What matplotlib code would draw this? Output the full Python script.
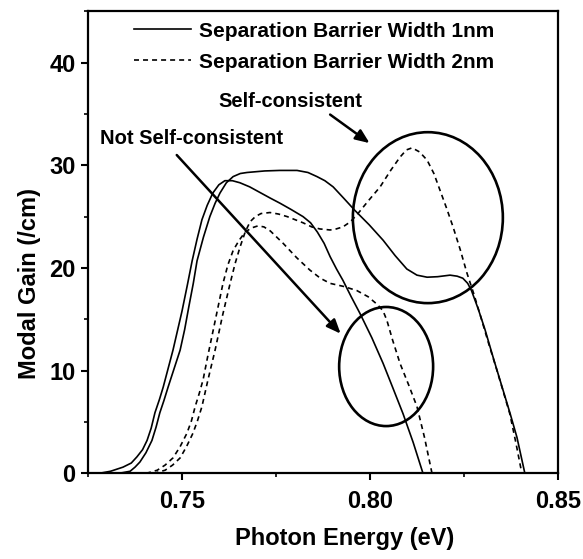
import matplotlib
matplotlib.use("Agg")
import matplotlib.pyplot as plt
from matplotlib.patches import Ellipse

plt.rcParams['font.family'] = ['Liberation Sans', 'DejaVu Sans']
plt.rcParams['font.weight'] = 'bold'
plt.rcParams['axes.labelweight'] = 'bold'
plt.rcParams['lines.scale_dashes'] = False

# 1nm barrier, not self-consistent
x_1nm_nsc = [0.728, 0.731, 0.7343, 0.7365, 0.738, 0.7395, 0.7407, 0.7418, 0.7428, 0.744,
             0.745, 0.7463, 0.7476, 0.7488, 0.750, 0.7514, 0.7527, 0.754, 0.7553, 0.7567,
             0.7582, 0.7598, 0.7614, 0.7634, 0.7654, 0.768, 0.771, 0.7735, 0.7761, 0.779,
             0.7822, 0.7842, 0.786, 0.7878, 0.7894, 0.7911, 0.7928, 0.795, 0.7973, 0.8005,
             0.8035, 0.806, 0.8088, 0.8115, 0.8141]
y_1nm_nsc = [0.0, 0.2, 0.6, 1.0, 1.6, 2.3, 3.2, 4.4, 5.9, 7.2,
             8.4, 10.2, 12.0, 13.9, 15.8, 18.3, 20.7, 22.8, 24.7, 26.1,
             27.3, 28.1, 28.5, 28.5, 28.3, 27.9, 27.3, 26.8, 26.3, 25.7,
             25.0, 24.4, 23.5, 22.4, 21.1, 19.9, 18.8, 17.2, 15.6, 13.2,
             10.7, 8.4, 5.8, 3.0, 0.0]

# 1nm barrier, self-consistent
x_1nm_sc = [0.731, 0.734, 0.7362, 0.7375, 0.7388, 0.7404, 0.742, 0.7431, 0.7441, 0.7452,
            0.7463, 0.7479, 0.7495, 0.7507, 0.7518, 0.753, 0.754, 0.7557, 0.7574, 0.7588,
            0.7601, 0.7618, 0.7636, 0.7655, 0.7673, 0.772, 0.776, 0.7806, 0.7835, 0.7859,
            0.788, 0.7902, 0.793, 0.796, 0.7998, 0.8035, 0.8067, 0.8098, 0.8125, 0.8152,
            0.818, 0.8213, 0.8232, 0.8247, 0.826, 0.827, 0.8288, 0.8306, 0.833, 0.8354,
            0.8373, 0.8391, 0.8412]
y_1nm_sc = [0.0, 0.05, 0.2, 0.6, 1.1, 2.0, 3.2, 4.5, 5.9, 7.1,
            8.4, 10.2, 12.0, 14.0, 16.2, 18.5, 20.7, 23.0, 25.0, 26.3,
            27.3, 28.3, 28.9, 29.2, 29.3, 29.45, 29.5, 29.5, 29.3, 28.9,
            28.5, 27.9, 26.8, 25.6, 24.2, 22.7, 21.2, 19.9, 19.3, 19.1,
            19.15, 19.3, 19.2, 19.0, 18.5, 17.8, 16.0, 14.0, 11.0, 8.1,
            5.8, 3.5, 0.0]

# 2nm barrier, not self-consistent
x_2nm_nsc = [0.738, 0.741, 0.7434, 0.7455, 0.7476, 0.7495, 0.7513, 0.7525, 0.7535, 0.7546,
             0.7556, 0.7569, 0.7589, 0.7609, 0.7622, 0.7636, 0.7652, 0.7668, 0.7685, 0.7702,
             0.7718, 0.7735, 0.7752, 0.7769, 0.7805, 0.784, 0.7868, 0.7894, 0.793, 0.7965,
             0.7995, 0.8021, 0.8035, 0.8045, 0.806, 0.808, 0.8103, 0.8125, 0.8145, 0.8165]
y_2nm_nsc = [0.0, 0.05, 0.3, 0.8, 1.5, 2.6, 3.9, 5.1, 6.5, 7.8,
             9.1, 11.5, 15.0, 18.5, 20.3, 21.7, 22.7, 23.5, 23.9, 24.1,
             24.0, 23.6, 23.0, 22.4, 21.0, 19.8, 19.0, 18.5, 18.2, 17.8,
             17.2, 16.4, 15.8, 14.9, 13.0, 10.7, 8.6, 6.5, 3.5, 0.0]

# 2nm barrier, self-consistent
x_2nm_sc = [0.740, 0.743, 0.7455, 0.7475, 0.7495, 0.7512, 0.7529, 0.7541, 0.7553, 0.7561,
            0.7569, 0.7588, 0.7608, 0.7628, 0.7641, 0.7654, 0.7668, 0.7681, 0.7695, 0.771,
            0.7734, 0.7757, 0.778, 0.7822, 0.7845, 0.7867, 0.7894, 0.791, 0.7928, 0.7948,
            0.7968, 0.7997, 0.8027, 0.8055, 0.808, 0.8097, 0.8112, 0.8132, 0.8152, 0.817,
            0.8186, 0.8204, 0.8221, 0.824, 0.8258, 0.8276, 0.8295, 0.8316, 0.8338, 0.8355,
            0.8372, 0.8388, 0.8404]
y_2nm_sc = [0.0, 0.05, 0.3, 0.8, 1.5, 2.6, 3.9, 5.1, 6.5, 7.8,
            9.1, 12.0, 15.4, 18.5, 20.4, 22.0, 23.5, 24.5, 25.0, 25.3,
            25.4, 25.25, 25.0, 24.4, 24.0, 23.8, 23.7, 23.8, 24.0, 24.5,
            25.3, 26.6, 27.9, 29.5, 30.8, 31.5, 31.7, 31.3, 30.5, 29.2,
            27.6, 25.8, 24.0, 21.8, 19.5, 17.5, 15.2, 12.6, 10.0, 7.9,
            5.8, 3.0, 0.0]

dash = (0, (3.6, 2.9))

fig = plt.figure(figsize=(5.83, 5.59), dpi=100)
ax = fig.add_axes([0.151, 0.1533, 0.806, 0.8265])

l1, = ax.plot(x_1nm_nsc, y_1nm_nsc, color='black', lw=1.2)
ax.plot(x_1nm_sc, y_1nm_sc, color='black', lw=1.2)
l2, = ax.plot(x_2nm_nsc, y_2nm_nsc, color='black', lw=1.2, linestyle=dash)
ax.plot(x_2nm_sc, y_2nm_sc, color='black', lw=1.2, linestyle=dash)

# circles around the regions
ax.add_patch(Ellipse((0.8154, 24.9), 0.0399, 16.65, fill=False, lw=1.9, color='black'))
ax.add_patch(Ellipse((0.8043, 10.4), 0.025, 11.6, fill=False, lw=1.9, color='black'))

ax.annotate('', xy=(0.8005, 32.0), xytext=(0.7888, 35.1),
            arrowprops=dict(arrowstyle='-|>,head_length=0.6,head_width=0.25',
                            color='black', lw=1.8, mutation_scale=14))
ax.annotate('', xy=(0.7927, 13.4), xytext=(0.7481, 31.2),
            arrowprops=dict(arrowstyle='-|>,head_length=0.6,head_width=0.25',
                            color='black', lw=1.8, mutation_scale=14))
ax.text(0.7787, 36.2, 'Self-consistent', ha='center', va='center', fontsize=14.5)
ax.text(0.7525, 32.6, 'Not Self-consistent', ha='center', va='center', fontsize=14.5)

ax.legend([l1, l2], ['Separation Barrier Width 1nm', 'Separation Barrier Width 2nm'],
          loc='upper left', bbox_to_anchor=(0.094, 0.982), frameon=False,
          fontsize=15, handlelength=2.7, handletextpad=0.42, labelspacing=0.58,
          borderpad=0.1, borderaxespad=0)

ax.set_xlim(0.725, 0.85)
ax.set_ylim(0, 45)
ax.set_xticks([0.75, 0.80, 0.85])
ax.set_xticklabels(['0.75', '0.80', '0.85'])
ax.set_xticks([0.725, 0.775, 0.825], minor=True)
ax.set_yticks([0, 10, 20, 30, 40])
ax.set_yticks([5, 15, 25, 35, 45], minor=True)
ax.tick_params(which='major', direction='out', length=5, width=1.5, labelsize=17, pad=4)
ax.tick_params(which='minor', direction='out', length=3, width=1.2)
ax.tick_params(axis='x', which='major', pad=7)
for s in ax.spines.values():
    s.set_linewidth(1.6)

ax.set_xlabel('Photon Energy (eV)', fontsize=17, labelpad=10, x=0.545)
ax.set_ylabel('Modal Gain (/cm)', fontsize=17, labelpad=6, y=0.41)

fig.savefig('out.png', dpi=100)
